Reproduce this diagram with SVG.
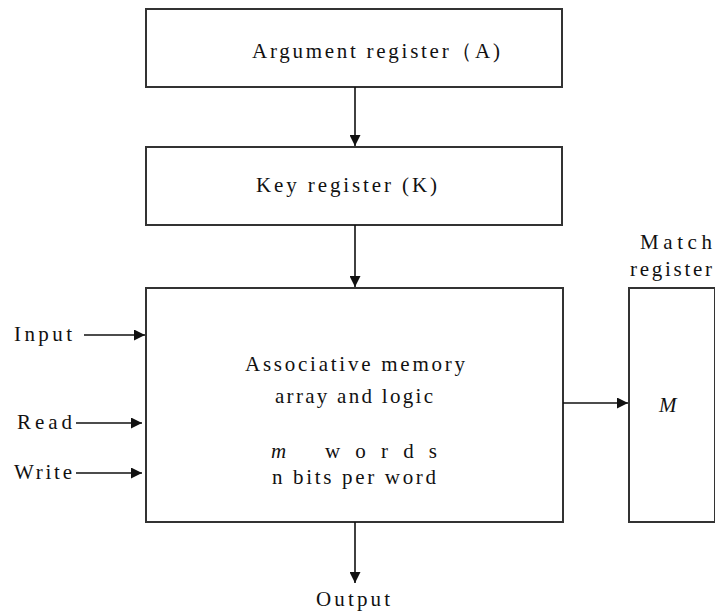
<svg xmlns="http://www.w3.org/2000/svg" width="715" height="613" viewBox="0 0 715 613">
<style>
.box{fill:#fff;stroke:#333;stroke-width:2}
.t{font-family:'Liberation Serif','Times New Roman','DejaVu Serif',serif;font-size:21px;fill:#111}
.c{stroke:#111;stroke-width:1.6;fill:none}
</style>
<defs>
<marker id="ah" viewBox="0 0 10 10" refX="10" refY="5" markerWidth="11" markerHeight="11" markerUnits="userSpaceOnUse" orient="auto">
<path d="M0,0 L10,5 L0,10 z" fill="#111"/>
</marker>
</defs>
<rect width="715" height="613" fill="#fff"/>
<g id="argument">
<rect class="box" x="146" y="9" width="416" height="78"/>
<text class="t" x="252" y="58" textLength="248" lengthAdjust="spacing">Argument register（A)</text>
</g>
<g id="key">
<rect class="box" x="146" y="147" width="416" height="78"/>
<text class="t" x="256" y="192" textLength="181" lengthAdjust="spacing">Key register (K)</text>
</g>
<g id="memory">
<rect class="box" x="146" y="288" width="417" height="234"/>
<text class="t" x="245" y="371" textLength="220" lengthAdjust="spacing">Associative memory</text>
<text class="t" x="275" y="403" textLength="158" lengthAdjust="spacing">array and logic</text>
<text class="t" x="271" y="458" font-style="italic">m</text>
<text class="t" x="325" y="458" textLength="112" lengthAdjust="spacing">words</text>
<text class="t" x="272" y="484" textLength="164" lengthAdjust="spacing">n bits per word</text>
</g>
<g id="match">
<rect class="box" x="629" y="288" width="86" height="234"/>
<text class="t" x="640" y="249" textLength="72" lengthAdjust="spacing">Match</text>
<text class="t" x="630" y="276" textLength="82" lengthAdjust="spacing">register</text>
<text class="t" x="659" y="412" font-style="italic">M</text>
</g>
<g id="labels">
<text class="t" x="14" y="341" textLength="58" lengthAdjust="spacing">Input</text>
<text class="t" x="17" y="429" textLength="55" lengthAdjust="spacing">Read</text>
<text class="t" x="14" y="479" textLength="58" lengthAdjust="spacing">Write</text>
<text class="t" x="316" y="606" textLength="74" lengthAdjust="spacing">Output</text>
</g>
<g id="connectors">
<line class="c" x1="355" y1="87" x2="355" y2="146" marker-end="url(#ah)"/>
<line class="c" x1="355" y1="225" x2="355" y2="287" marker-end="url(#ah)"/>
<line class="c" x1="563" y1="403" x2="628" y2="403" marker-end="url(#ah)"/>
<line class="c" x1="355" y1="522" x2="355" y2="583" marker-end="url(#ah)"/>
<line class="c" x1="84" y1="335" x2="145" y2="335" marker-end="url(#ah)"/>
<line class="c" x1="76" y1="423" x2="142" y2="423" marker-end="url(#ah)"/>
<line class="c" x1="76" y1="473" x2="142" y2="473" marker-end="url(#ah)"/>
</g>
</svg>
